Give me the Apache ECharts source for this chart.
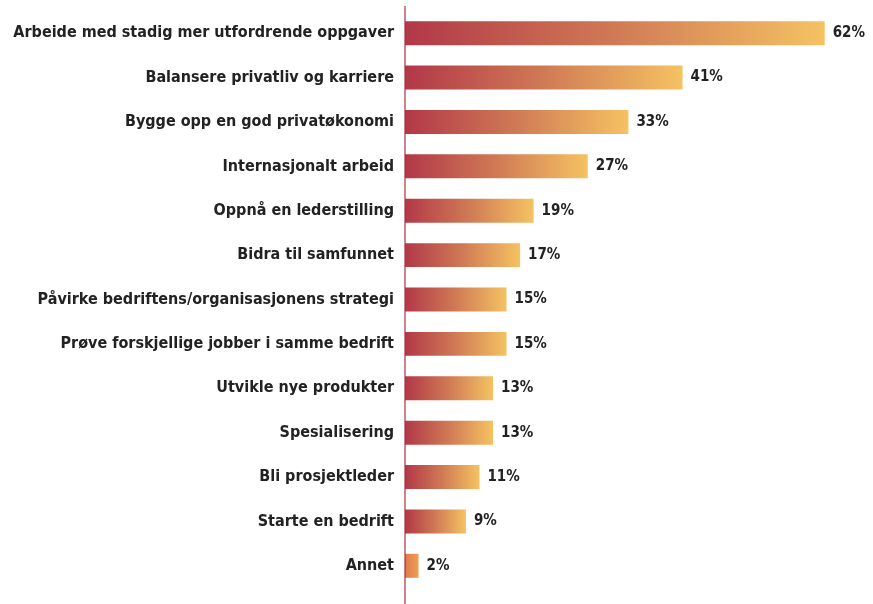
<!DOCTYPE html>
<html><head><meta charset="utf-8">
<script src="https://cdn.jsdelivr.net/npm/echarts@6/dist/echarts.min.js"></script>
<style>html,body{margin:0;padding:0;background:#fff}#c{width:873px;height:604px}</style>
</head><body><div id="c"></div>
<script>
var categories = [
  "Arbeide med stadig mer utfordrende oppgaver",
  "Balansere privatliv og karriere",
  "Bygge opp en god privatøkonomi",
  "Internasjonalt arbeid",
  "Oppnå en lederstilling",
  "Bidra til samfunnet",
  "Påvirke bedriftens/organisasjonens strategi",
  "Prøve forskjellige jobber i samme bedrift",
  "Utvikle nye produkter",
  "Spesialisering",
  "Bli prosjektleder",
  "Starte en bedrift",
  "Annet"
];
var values = [62, 41, 33, 27, 19, 17, 15, 15, 13, 13, 11, 9, 2];

var chart = echarts.init(document.getElementById('c'));
var font = '"DejaVu Sans Condensed", "DejaVu Sans", sans-serif';
var mainGrad = new echarts.graphic.LinearGradient(0, 0, 1, 0, [
  {offset: 0, color: '#b23848'},
  {offset: 0.5, color: '#d07a55'},
  {offset: 1, color: '#f5c262'}
]);
var shortGrad = new echarts.graphic.LinearGradient(0, 0, 1, 0, [
  {offset: 0, color: '#de7a4c'},
  {offset: 1, color: '#eea055'}
]);
var barData = values.map(function (v) {
  return {value: v, itemStyle: {color: v < 5 ? shortGrad : mainGrad}};
});
chart.setOption({
  animation: false,
  grid: {left: 405, right: 28, top: 11, bottom: 16},
  xAxis: {type: 'value', min: 0, max: 65, show: false},
  yAxis: {
    type: 'category', data: categories, inverse: true,
    axisLine: {show: false},
    axisTick: {show: false},
    axisLabel: {margin: 11, color: '#222', fontFamily: font, fontWeight: 'bold', fontSize: 16}
  },
  graphic: [{
    type: 'line', shape: {x1: 405, y1: 6, x2: 405, y2: 604},
    style: {stroke: '#a8303e', lineWidth: 1.2}, z: 10
  }],
  series: [{
    type: 'bar', data: barData, barWidth: '54%',
    label: {show: true, position: 'right', distance: 8, formatter: '{c}%',
      color: '#222', fontFamily: font, fontWeight: 'bold', fontSize: 15}
  }]
});
</script></body></html>
